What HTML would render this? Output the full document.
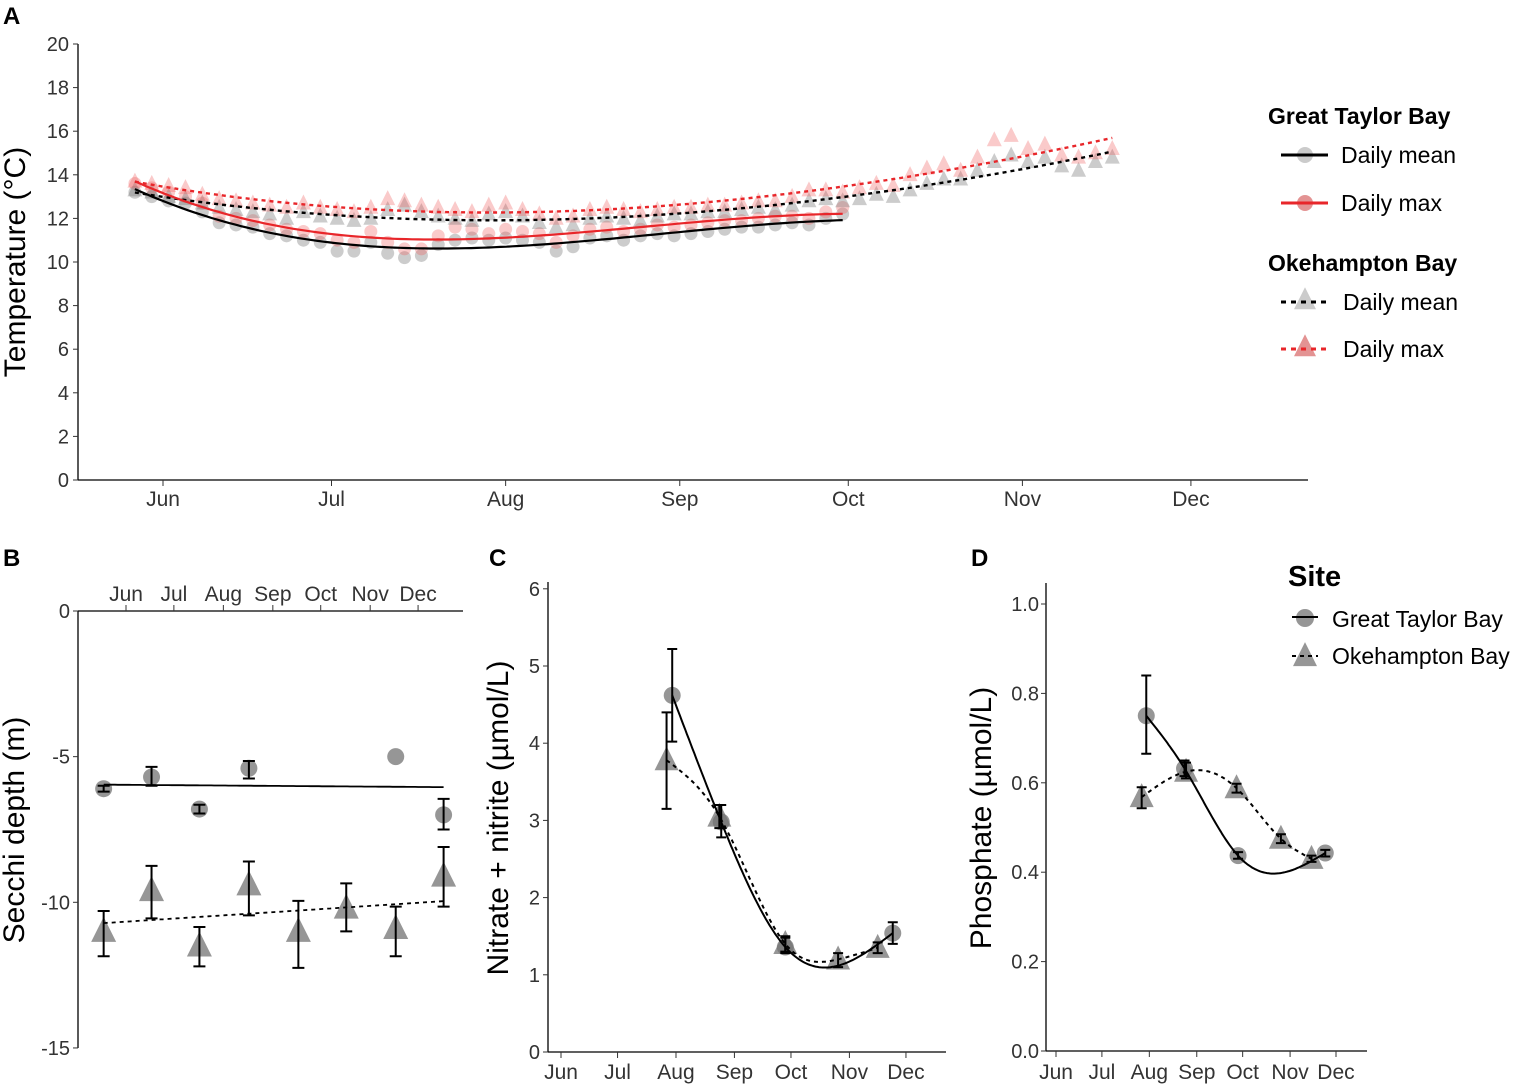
<!DOCTYPE html>
<html><head><meta charset="utf-8">
<style>
html,body{margin:0;padding:0;background:#fff;}
svg{display:block;font-family:"Liberation Sans",Arial,sans-serif;}
</style></head>
<body>
<svg id="fig" width="1513" height="1085" viewBox="0 0 1513 1085" xmlns="http://www.w3.org/2000/svg">
<g id="layer"></g>
</svg>
<script>
// ---------- Panel A data (temperature, days since 1 Jun) ----------
const monthLabels = ["Jun","Jul","Aug","Sep","Oct","Nov","Dec"];
const monthDays = [0,30,61,92,122,153,183];
const tempTicks = [0,2,4,6,8,10,12,14,16,18,20];
const gtbStartDay = -5;
const obStartDay = -5;
const sampleStep = 3;
const gtbMean = [13.2,13.0,12.8,12.7,12.3,11.8,11.7,11.6,11.3,11.2,11.0,10.9,10.5,10.5,10.9,10.4,10.2,10.3,10.8,11.0,11.1,11.0,11.1,11.0,10.9,10.5,10.7,11.1,11.2,11.0,11.2,11.3,11.2,11.3,11.4,11.5,11.6,11.6,11.7,11.8,11.7,12.0,12.2];
const gtbMax = [13.6,13.4,13.2,13.0,12.7,12.1,12.0,11.9,11.7,11.5,11.4,11.3,11.0,10.9,11.4,10.9,10.6,10.6,11.2,11.6,11.5,11.3,11.5,11.4,11.3,10.9,11.2,11.5,11.6,11.4,11.5,11.7,11.6,11.7,11.8,11.9,11.9,12.0,12.1,12.1,12.0,12.3,12.5];
const obMean = [13.3,13.2,13.0,12.9,12.7,12.5,12.4,12.3,12.2,12.0,12.3,12.1,12.0,11.9,12.0,12.4,12.6,12.3,12.1,12.0,11.9,12.2,12.3,12.1,11.8,11.6,11.7,12.0,12.1,12.0,11.9,12.1,12.2,12.2,12.3,12.3,12.4,12.5,12.4,12.6,12.8,12.9,12.8,12.9,13.1,13.0,13.3,13.6,13.8,13.8,14.2,14.6,14.9,14.6,14.8,14.4,14.2,14.6,14.8];
const obMax = [13.7,13.6,13.5,13.4,13.1,12.9,12.8,12.7,12.6,12.5,12.7,12.5,12.4,12.3,12.5,12.9,12.8,12.6,12.5,12.4,12.3,12.6,12.7,12.4,12.2,12.0,12.1,12.4,12.5,12.4,12.3,12.4,12.5,12.5,12.6,12.6,12.7,12.8,12.8,13.0,13.3,13.3,13.2,13.4,13.6,13.5,14.0,14.3,14.5,14.2,14.8,15.6,15.8,15.2,15.4,14.9,14.8,15.0,15.2];

// ---------- Panel B data (Secchi depth) ----------
const secchiTicks = [0,-5,-10,-15];
const secchiDays = [-14,16,46,77,108,138,169,199];
const secchiGtb = [-6.1,-5.7,-6.8,-5.4,null,null,-5.0,-7.0];
const secchiGtbLo = [-6.2,-6.0,-6.95,-5.75,null,null,null,-7.5];
const secchiGtbHi = [-6.0,-5.35,-6.65,-5.15,null,null,null,-6.45];
const secchiOb = [-11.0,-9.6,-11.5,-9.4,-11.0,-10.2,-10.9,-9.1];
const secchiObLo = [-11.85,-10.55,-12.2,-10.45,-12.25,-11.0,-11.85,-10.15];
const secchiObHi = [-10.3,-8.75,-10.85,-8.6,-9.95,-9.35,-10.15,-8.1];

// ---------- Panel C data (nitrate + nitrite) ----------
const nitTicks = [0,1,2,3,4,5,6];
const nitGtbDays = [59,85,119,176];
const nitGtb = [4.62,2.98,1.36,1.54];
const nitGtbLo = [4.02,2.78,1.28,1.4];
const nitGtbHi = [5.22,3.2,1.48,1.68];
const nitObDays = [56,84,119,147,168];
const nitOb = [3.78,3.05,1.4,1.2,1.35];
const nitObLo = [3.15,2.9,1.3,1.1,1.28];
const nitObHi = [4.4,3.2,1.5,1.28,1.42];

// ---------- Panel D data (phosphate) ----------
const phosTicks = [0,0.2,0.4,0.6,0.8,1.0];
const phosGtbDays = [59,84,119,176];
const phosGtb = [0.75,0.632,0.437,0.443];
const phosGtbLo = [0.665,0.615,0.43,0.435];
const phosGtbHi = [0.84,0.65,0.445,0.45];
const phosObDays = [56,85,118,147,167];
const phosOb = [0.568,0.625,0.588,0.475,0.43];
const phosObLo = [0.543,0.61,0.578,0.465,0.423];
const phosObHi = [0.59,0.645,0.598,0.485,0.437];

const NS = "http://www.w3.org/2000/svg";
const root = document.getElementById('layer');
function mk(tag, attrs, parent){
  const e = document.createElementNS(NS, tag);
  for (const k in attrs) e.setAttribute(k, attrs[k]);
  (parent||root).appendChild(e);
  return e;
}
function txt(s, attrs, parent){ const e = mk('text', attrs, parent); e.textContent = s; return e; }
function tri(cx, cy, s){ return `M${cx},${cy-s*0.58} L${cx-s/2},${cy+s*0.42} L${cx+s/2},${cy+s*0.42} Z`; }

function polyfit(xs, ys, deg){
  const n = deg+1, A = [], b = [];
  for (let i=0;i<n;i++){ A.push(new Array(n).fill(0)); b.push(0); }
  const m = xs.reduce((a,c)=>a+c,0)/xs.length;
  const sc = Math.max(...xs.map(x=>Math.abs(x-m)))||1;
  xs.forEach((x,k)=>{ const u=(x-m)/sc; for(let i=0;i<n;i++){ b[i]+=ys[k]*Math.pow(u,i); for(let j=0;j<n;j++) A[i][j]+=Math.pow(u,i+j);} });
  for (let i=0;i<n;i++){ let p=i; for(let r=i+1;r<n;r++) if(Math.abs(A[r][i])>Math.abs(A[p][i])) p=r;
    [A[i],A[p]]=[A[p],A[i]]; [b[i],b[p]]=[b[p],b[i]];
    for (let r=0;r<n;r++){ if(r===i) continue; const f=A[r][i]/A[i][i]; for(let c=i;c<n;c++) A[r][c]-=f*A[i][c]; b[r]-=f*b[i]; } }
  const co = b.map((v,i)=>v/A[i][i]);
  return x => { const u=(x-m)/sc; return co.reduce((a,c,i)=>a+c*Math.pow(u,i),0); };
}
function spline(xs, ys){
  const n = xs.length, h=[], al=[0], l=[1], mu=[0], z=[0], c=new Array(n).fill(0), bb=[], d=[];
  for (let i=0;i<n-1;i++) h.push(xs[i+1]-xs[i]);
  for (let i=1;i<n-1;i++) al.push(3/h[i]*(ys[i+1]-ys[i]) - 3/h[i-1]*(ys[i]-ys[i-1]));
  for (let i=1;i<n-1;i++){ l[i]=2*(xs[i+1]-xs[i-1])-h[i-1]*mu[i-1]; mu[i]=h[i]/l[i]; z[i]=(al[i]-h[i-1]*z[i-1])/l[i]; }
  for (let j=n-2;j>=0;j--){ c[j]=(j<n-2||n>2)? ((j===n-2)?z[j]-mu[j]*0:z[j]-mu[j]*c[j+1]) : 0; if(j===0) c[0]=0;
    bb[j]=(ys[j+1]-ys[j])/h[j]-h[j]*(c[j+1]+2*c[j])/3; d[j]=(c[j+1]-c[j])/(3*h[j]); }
  return x => { let i=0; while(i<n-2 && x>xs[i+1]) i++; const t=x-xs[i]; return ys[i]+bb[i]*t+c[i]*t*t+d[i]*t*t*t; };
}
function curve(f, x0, x1, xs, ys, attrs, name){
  let p=''; const N=120;
  for (let i=0;i<=N;i++){ const d=x0+(x1-x0)*i/N; p+=(i?'L':'M')+xs(d).toFixed(1)+','+ys(f(d)).toFixed(1); }
  const e = mk('path', Object.assign({d:p, fill:'none'}, attrs));
  
  
  return e;
}

// ================= Panel A =================
const xA = d => 163 + d*5.617;
const yA = t => 480 - t*21.8;
const gA = mk('g', {});


const la = txt('A', {x:3, y:24, 'font-size':24, 'font-weight':'bold'}, gA);
 
mk('line', {x1:78, y1:44, x2:78, y2:480, stroke:'#000', 'stroke-width':1.3}, gA);
mk('line', {x1:78, y1:480, x2:1308, y2:480, stroke:'#000', 'stroke-width':1.3}, gA);
tempTicks.forEach(t => {
  mk('line', {x1:73, x2:78, y1:yA(t), y2:yA(t), stroke:'#333'}, gA);
  const e = txt(String(t), {x:69, y:yA(t)+7, 'font-size':20, 'text-anchor':'end', fill:'#333'}, gA);
   
});
monthDays.forEach((d,i) => {
  mk('line', {x1:xA(d), x2:xA(d), y1:480, y2:486, stroke:'#333'}, gA);
  const e = txt(monthLabels[i], {x:xA(d), y:506, 'font-size':21, 'text-anchor':'middle', fill:'#333'}, gA);
   
});
const ta = txt('Temperature (°C)', {x:0, y:0, 'font-size':30, 'text-anchor':'middle', transform:'translate(25,262) rotate(-90)'}, gA);
 

function ptsA(series, start, shape, fill){
  series.forEach((v,i) => {
    const d = start + i*sampleStep, cx = xA(d), cy = yA(v);
    let e;
    if (shape==='c') e = mk('circle', {cx, cy, r:6.5, fill}, gA);
    else e = mk('path', {d:tri(cx,cy,15), fill}, gA);
    
    
  });
}
ptsA(gtbMean, gtbStartDay, 'c', 'rgba(120,120,120,0.38)');
ptsA(gtbMax, gtbStartDay, 'c', 'rgba(240,90,90,0.32)');
ptsA(obMean, obStartDay, 't', 'rgba(120,120,120,0.38)');
ptsA(obMax, obStartDay, 't', 'rgba(240,90,90,0.32)');
function fitLine(series, start, attrs, name){
  const xs = series.map((_,i)=>start+i*sampleStep);
  const f = polyfit(xs, series, 3);
  const c = curve(f, xs[0], xs[xs.length-1], xA, yA, attrs, name);
  gA.appendChild(c);
}
fitLine(obMean, obStartDay, {stroke:'#000','stroke-width':2.4,'stroke-dasharray':'4,4'}, 'ob-mean-trend');
fitLine(obMax, obStartDay, {stroke:'#e8262a','stroke-width':2.4,'stroke-dasharray':'4,4'}, 'ob-max-trend');
fitLine(gtbMean, gtbStartDay, {stroke:'#000','stroke-width':2.2}, 'gtb-mean-trend');
fitLine(gtbMax, gtbStartDay, {stroke:'#e8262a','stroke-width':2.2}, 'gtb-max-trend');

// legend A
const legA = mk('g', {});
 
const lh1 = txt('Great Taylor Bay', {x:1268, y:124, 'font-size':23, 'font-weight':'bold'}, legA);
 
const lh2 = txt('Okehampton Bay', {x:1268, y:271, 'font-size':23, 'font-weight':'bold'}, legA);
 
[[155,'#000','rgba(190,190,190,0.8)','c','Daily mean'],[203,'#e8262a','rgba(220,120,120,0.8)','c','Daily max'],
 [302,'#000','rgba(190,190,190,0.8)','t','Daily mean'],[349,'#e8262a','rgba(220,120,120,0.8)','t','Daily max']].forEach(r=>{
  const g = mk('g', {}, legA);
   
  if (r[3]==='c'){ mk('circle',{cx:1305,cy:r[0],r:8,fill:r[2]},g); mk('line',{x1:1281,x2:1328,y1:r[0],y2:r[0],stroke:r[1],'stroke-width':3},g); }
  else { mk('path',{d:tri(1305,r[0]-2,22),fill:r[2]},g); mk('line',{x1:1281,x2:1328,y1:r[0],y2:r[0],stroke:r[1],'stroke-width':3,'stroke-dasharray':'5,5'},g); }
  txt(r[4], {x: r[3]==='c'?1341:1343, y:r[0]+8, 'font-size':23}, g);
});

// ================= Panel B =================
const xB = d => 126 + d*1.596;
const yB = v => 611 - v*29.13;
const gB = mk('g', {});
 
const lb = txt('B', {x:3, y:566, 'font-size':24, 'font-weight':'bold'}, gB);
 
mk('line',{x1:78,x2:78,y1:611,y2:1048,stroke:'#000','stroke-width':1.3},gB);
mk('line',{x1:78,x2:463,y1:611,y2:611,stroke:'#000','stroke-width':1.3},gB);
secchiTicks.forEach(t=>{
  mk('line',{x1:73,x2:78,y1:yB(t),y2:yB(t),stroke:'#333'},gB);
  const e = txt(String(t),{x:70,y:yB(t)+7,'font-size':20,'text-anchor':'end',fill:'#333'},gB);
   
});
monthDays.forEach((d,i)=>{
  mk('line',{x1:xB(d),x2:xB(d),y1:605,y2:611,stroke:'#333'},gB);
  const e = txt(monthLabels[i],{x:xB(d),y:601,'font-size':21,'text-anchor':'middle',fill:'#333'},gB);
   
});
const tb = txt('Secchi depth (m)',{x:0,y:0,'font-size':30,'text-anchor':'middle',transform:'translate(24,830) rotate(-90)'},gB);
 

function errBars(g, xs, lo, hi, xf, yf, cap){
  xs.forEach((d,i)=>{
    if (lo[i]==null) return;
    const x = xf(d), e = mk('path',{d:`M${x-cap},${yf(lo[i])}H${x+cap}M${x-cap},${yf(hi[i])}H${x+cap}M${x},${yf(lo[i])}V${yf(hi[i])}`,stroke:'#000','stroke-width':2,fill:'none'},g);
     
  });
}
function markers(g, xs, ys, xf, yf, shape, size, name){
  xs.forEach((d,i)=>{
    if (ys[i]==null) return;
    let e;
    if (shape==='c') e = mk('circle',{cx:xf(d),cy:yf(ys[i]),r:size,fill:'rgba(115,115,115,0.75)'},g);
    else e = mk('path',{d:tri(xf(d),yf(ys[i]),size),fill:'rgba(115,115,115,0.75)'},g);
     
  });
}
markers(gB, secchiDays, secchiGtb, xB, yB, 'c', 8.5, 'gtb-secchi-point');
markers(gB, secchiDays, secchiOb, xB, yB, 't', 25, 'ob-secchi-point');
(function(){
  const gx=[],gy=[]; secchiDays.forEach((d,i)=>{ if(secchiGtb[i]!=null){gx.push(d);gy.push(secchiGtb[i]);} });
  const f1 = polyfit(gx, gy, 1);
  gB.appendChild(curve(f1, secchiDays[0], secchiDays[secchiDays.length-1], xB, yB, {stroke:'#000','stroke-width':1.8}, 'gtb-secchi-trend'));
  const f2 = polyfit(secchiDays, secchiOb, 1);
  gB.appendChild(curve(f2, secchiDays[0], secchiDays[secchiDays.length-1], xB, yB, {stroke:'#000','stroke-width':1.8,'stroke-dasharray':'4,4'}, 'ob-secchi-trend'));
})();
errBars(gB, secchiDays, secchiGtbLo, secchiGtbHi, xB, yB, 6);
errBars(gB, secchiDays, secchiObLo, secchiObHi, xB, yB, 6);

// ================= Panel C =================
const xC = d => 561 + d*1.885;
const yC = v => 1052 - v*77.2;
const gC = mk('g', {});
 
const lc = txt('C', {x:489, y:566, 'font-size':24, 'font-weight':'bold'}, gC);
 
mk('line',{x1:548,x2:548,y1:582,y2:1052,stroke:'#000','stroke-width':1.3},gC);
mk('line',{x1:548,x2:946,y1:1052,y2:1052,stroke:'#000','stroke-width':1.3},gC);
nitTicks.forEach(t=>{
  mk('line',{x1:543,x2:548,y1:yC(t),y2:yC(t),stroke:'#333'},gC);
  const e = txt(String(t),{x:540,y:yC(t)+7,'font-size':20,'text-anchor':'end',fill:'#333'},gC);
   
});
monthDays.forEach((d,i)=>{
  mk('line',{x1:xC(d),x2:xC(d),y1:1052,y2:1058,stroke:'#333'},gC);
  const e = txt(monthLabels[i],{x:xC(d),y:1079,'font-size':21,'text-anchor':'middle',fill:'#333'},gC);
   
});
const tc = txt('Nitrate + nitrite (µmol/L)',{x:0,y:0,'font-size':30,'text-anchor':'middle',transform:'translate(508,818) rotate(-90)'},gC);
 
markers(gC, nitObDays, nitOb, xC, yC, 't', 24, 'ob-nitrate-point');
markers(gC, nitGtbDays, nitGtb, xC, yC, 'c', 8.5, 'gtb-nitrate-point');
gC.appendChild(curve(spline(nitGtbDays,nitGtb), nitGtbDays[0], nitGtbDays[nitGtbDays.length-1], xC, yC, {stroke:'#000','stroke-width':2}, 'gtb-nitrate-curve'));
gC.appendChild(curve(spline(nitObDays,nitOb), nitObDays[0], nitObDays[nitObDays.length-1], xC, yC, {stroke:'#000','stroke-width':2,'stroke-dasharray':'4,4'}, 'ob-nitrate-curve'));
errBars(gC, nitGtbDays, nitGtbLo, nitGtbHi, xC, yC, 5);
errBars(gC, nitObDays, nitObLo, nitObHi, xC, yC, 5);

// ================= Panel D =================
const xD = d => 1056 + d*1.53;
const yD = v => 1051 - v*447;
const gD = mk('g', {});
 
const ld = txt('D', {x:971, y:566, 'font-size':24, 'font-weight':'bold'}, gD);
 
mk('line',{x1:1046,x2:1046,y1:583,y2:1051,stroke:'#000','stroke-width':1.3},gD);
mk('line',{x1:1046,x2:1367,y1:1051,y2:1051,stroke:'#000','stroke-width':1.3},gD);
phosTicks.forEach(t=>{
  mk('line',{x1:1041,x2:1046,y1:yD(t),y2:yD(t),stroke:'#333'},gD);
  const e = txt(t.toFixed(1),{x:1039,y:yD(t)+7,'font-size':20,'text-anchor':'end',fill:'#333'},gD);
   
});
monthDays.forEach((d,i)=>{
  mk('line',{x1:xD(d),x2:xD(d),y1:1051,y2:1057,stroke:'#333'},gD);
  const e = txt(monthLabels[i],{x:xD(d),y:1079,'font-size':21,'text-anchor':'middle',fill:'#333'},gD);
   
});
const td = txt('Phosphate (µmol/L)',{x:0,y:0,'font-size':30,'text-anchor':'middle',transform:'translate(991,818) rotate(-90)'},gD);
 
markers(gD, phosObDays, phosOb, xD, yD, 't', 24, 'ob-phosphate-point');
markers(gD, phosGtbDays, phosGtb, xD, yD, 'c', 8.5, 'gtb-phosphate-point');
gD.appendChild(curve(spline(phosGtbDays,phosGtb), phosGtbDays[0], phosGtbDays[phosGtbDays.length-1], xD, yD, {stroke:'#000','stroke-width':2}, 'gtb-phosphate-curve'));
gD.appendChild(curve(spline(phosObDays,phosOb), phosObDays[0], phosObDays[phosObDays.length-1], xD, yD, {stroke:'#000','stroke-width':2,'stroke-dasharray':'4,4'}, 'ob-phosphate-curve'));
errBars(gD, phosGtbDays, phosGtbLo, phosGtbHi, xD, yD, 5);
errBars(gD, phosObDays, phosObLo, phosObHi, xD, yD, 5);

// legend Site
const legS = mk('g', {});
 
txt('Site',{x:1288,y:586,'font-size':29,'font-weight':'bold'},legS);
const e1 = mk('g',{},legS);
 
mk('circle',{cx:1305,cy:618,r:9,fill:'rgba(115,115,115,0.75)'},e1);
mk('line',{x1:1292,x2:1318,y1:617,y2:617,stroke:'#000','stroke-width':2},e1);
txt('Great Taylor Bay',{x:1332,y:627,'font-size':23},e1);
const e2 = mk('g',{},legS);
 
mk('path',{d:tri(1305,656,24),fill:'rgba(115,115,115,0.75)'},e2);
mk('line',{x1:1292,x2:1318,y1:656,y2:656,stroke:'#000','stroke-width':2,'stroke-dasharray':'4,4'},e2);
txt('Okehampton Bay',{x:1332,y:664,'font-size':23},e2);
</script>
</body></html>
